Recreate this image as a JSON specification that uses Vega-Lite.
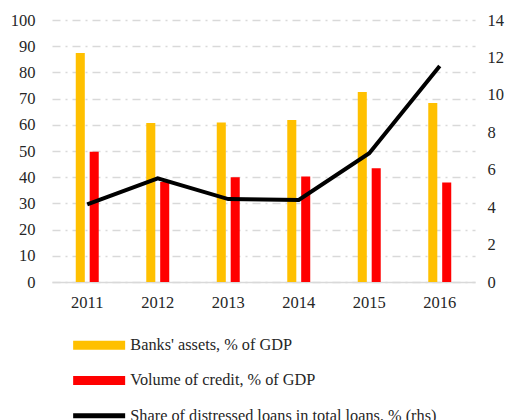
{
  "$schema": "https://vega.github.io/schema/vega-lite/v6.json",
  "width": 423,
  "height": 262,
  "autosize": {"type": "none"},
  "padding": {"left": 52, "top": 20, "right": 32, "bottom": 138},
  "config": {"view": {"stroke": null}, "font": "Liberation Serif", "axis": {"labelFont": "Liberation Serif"}, "legend": {"labelFont": "Liberation Serif"}},
  "data": {
    "values": [
      {"year": "2011", "series": "Banks' assets, % of GDP", "value": 87.4},
      {"year": "2012", "series": "Banks' assets, % of GDP", "value": 60.7},
      {"year": "2013", "series": "Banks' assets, % of GDP", "value": 60.9},
      {"year": "2014", "series": "Banks' assets, % of GDP", "value": 61.8},
      {"year": "2015", "series": "Banks' assets, % of GDP", "value": 72.5},
      {"year": "2016", "series": "Banks' assets, % of GDP", "value": 68.3},
      {"year": "2011", "series": "Volume of credit, % of GDP", "value": 49.7},
      {"year": "2012", "series": "Volume of credit, % of GDP", "value": 38.2},
      {"year": "2013", "series": "Volume of credit, % of GDP", "value": 40.0},
      {"year": "2014", "series": "Volume of credit, % of GDP", "value": 40.3},
      {"year": "2015", "series": "Volume of credit, % of GDP", "value": 43.4},
      {"year": "2016", "series": "Volume of credit, % of GDP", "value": 38.0},
      {"year": "2011", "series": "Share of distressed loans in total loans, % (rhs)", "value": 4.15},
      {"year": "2012", "series": "Share of distressed loans in total loans, % (rhs)", "value": 5.54},
      {"year": "2013", "series": "Share of distressed loans in total loans, % (rhs)", "value": 4.43},
      {"year": "2014", "series": "Share of distressed loans in total loans, % (rhs)", "value": 4.38},
      {"year": "2015", "series": "Share of distressed loans in total loans, % (rhs)", "value": 6.88},
      {"year": "2016", "series": "Share of distressed loans in total loans, % (rhs)", "value": 11.54}
    ]
  },
  "layer": [
    {
      "transform": [{"filter": "datum.series !== 'Share of distressed loans in total loans, % (rhs)'"}],
      "mark": {"type": "bar"},
      "encoding": {
        "x": {
          "field": "year", "type": "ordinal",
          "scale": {"paddingInner": 0.674, "paddingOuter": 0.337},
          "axis": {"title": null, "labelAngle": 0, "ticks": false, "grid": false, "domain": true, "domainColor": "#d9d9d9", "domainWidth": 1.5, "labelPadding": 12, "labelFontSize": 16.5, "labelColor": "#262626", "labelFont": "Liberation Serif"}
        },
        "xOffset": {"field": "series", "type": "nominal", "scale": {"paddingInner": 0.35}},
        "y": {
          "field": "value", "type": "quantitative",
          "scale": {"domain": [0, 100]},
          "axis": {"title": null, "values": [0, 10, 20, 30, 40, 50, 60, 70, 80, 90, 100], "domain": false, "ticks": false, "grid": true, "gridColor": "#d9d9d9", "gridWidth": 1.5, "gridDash": [8, 5, 2, 5], "labelPadding": 17, "labelFontSize": 16.5, "labelColor": "#262626", "labelFont": "Liberation Serif"}
        },
        "color": {
          "field": "series", "type": "nominal",
          "scale": {
            "domain": ["Banks' assets, % of GDP", "Volume of credit, % of GDP", "Share of distressed loans in total loans, % (rhs)"],
            "range": ["#FFC000", "#FF0000", "#000000"]
          },
          "legend": {
            "orient": "none", "legendX": 39, "legendY": 317, "direction": "vertical", "title": null,
            "labelFontSize": 16.3, "labelColor": "#262626", "labelFont": "Liberation Serif", "labelLimit": 500,
            "symbolType": "M-5.2,-0.9H5.2V0.9H-5.2Z", "symbolSize": 100, "rowPadding": 18.3, "labelOffset": 23,
            "encode": {
              "symbols": {
                "update": {
                  "fill": {"scale": "color", "field": "value"},
                  "strokeWidth": {"value": 0},
                  "shape": {"signal": "datum.value === 'Share of distressed loans in total loans, % (rhs)' ? 'M-5.2,-0.5H5.2V0.5H-5.2Z' : 'M-5.2,-0.9H5.2V0.9H-5.2Z'"}
                }
              }
            }
          }
        }
      }
    },
    {
      "transform": [{"filter": "datum.series === 'Share of distressed loans in total loans, % (rhs)'"}],
      "mark": {"type": "line", "strokeWidth": 4},
      "encoding": {
        "x": {"field": "year", "type": "ordinal"},
        "y": {
          "field": "value", "type": "quantitative",
          "scale": {"domain": [0, 14]},
          "axis": {"title": null, "orient": "right", "values": [0, 2, 4, 6, 8, 10, 12, 14], "domain": false, "ticks": false, "grid": false, "labelPadding": 12, "labelFontSize": 16.5, "labelColor": "#262626", "labelFont": "Liberation Serif"}
        },
        "color": {"field": "series", "type": "nominal"}
      }
    }
  ],
  "resolve": {"scale": {"y": "independent"}}
}
